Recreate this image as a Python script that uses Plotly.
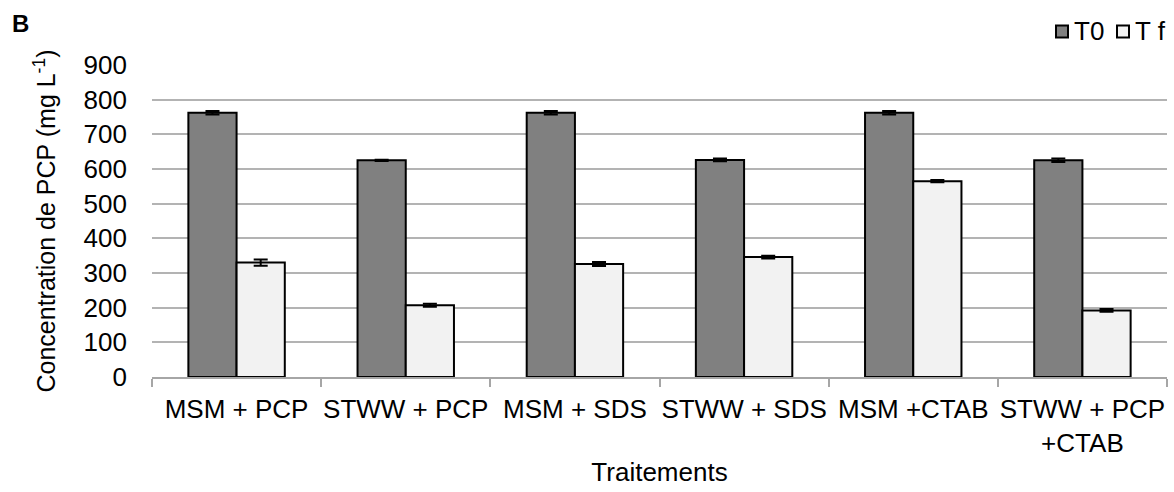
import plotly.graph_objects as go

categories = ["MSM + PCP", "STWW + PCP", "MSM + SDS", "STWW + SDS", "MSM +CTAB", "STWW + PCP<br>+CTAB"]
t0_values = [762, 625, 762, 626, 762, 625]
t0_errors = [5, 2, 5, 4, 5, 5]
tf_values = [330, 207, 326, 346, 565, 192]
tf_errors = [9, 4, 6, 4, 3, 4]
y_ticks = [0, 100, 200, 300, 400, 500, 600, 700, 800, 900]
series_names = ["T0", "T f"]
series_colors = ["#808080", "#f2f2f2"]

FONT = "Liberation Sans, Arial, sans-serif"
FS = 26

fig = go.Figure()
for name, vals, errs, col in zip(series_names, [t0_values, tf_values], [t0_errors, tf_errors], series_colors):
    fig.add_trace(go.Bar(
        name=name, x=categories, y=vals,
        marker=dict(color=col, line=dict(color="#000000", width=2)),
        error_y=dict(type="data", array=errs, color="#000000", thickness=2, width=7),
    ))

# Plot-area geometry (pixels) used for the custom legend placement
L, R, T, B, W, H = 152, 7, 65, 115, 1174, 492
PW, PH = W - L - R, H - T - B
def px(x):
    return (x - L) / PW
def py(y):
    return (H - B - y) / PH

shapes = []
annotations = []
legend_items = [(1056, 1072), (1117, 1133)]
for (sx, tx), name, col in zip(legend_items, series_names, series_colors):
    shapes.append(dict(type="rect", xref="paper", yref="paper",
                       x0=px(sx), x1=px(sx + 12), y0=py(37.5), y1=py(25.5),
                       fillcolor=col, line=dict(color="#000000", width=2)))
    annotations.append(dict(text=name, xref="paper", yref="paper", x=px(tx), y=py(31.5),
                            xanchor="left", yanchor="middle", showarrow=False,
                            font=dict(size=FS, family=FONT, color="#000000")))
annotations.append(dict(text="<b>B</b>", xref="paper", yref="paper", x=px(20), y=py(23.5),
                        xanchor="center", yanchor="middle", showarrow=False,
                        font=dict(size=24, family=FONT, color="#000000")))

fig.update_layout(
    width=W, height=H,
    margin=dict(l=L, r=R, t=T, b=B, autoexpand=False),
    paper_bgcolor="white", plot_bgcolor="white",
    font=dict(family=FONT, size=FS, color="#000000"),
    barmode="group", bargap=0.43, bargroupgap=0,
    showlegend=False,
    xaxis=dict(
        type="category",
        showline=True, linecolor="#a6a6a6", linewidth=1.5,
        ticks="outside", tickson="boundaries", ticklen=8, tickcolor="#a6a6a6", tickwidth=1.5,
        showgrid=False, tickangle=0,
        ticklabelstandoff=8,
        tickfont=dict(size=FS),
        title=dict(text="Traitements", standoff=6, font=dict(size=FS)),
        automargin=False,
    ),
    yaxis=dict(
        range=[0, 900], tickvals=y_ticks,
        showgrid=True, gridcolor="#b3b3b3", gridwidth=1.5,
        showline=False, zeroline=False, ticks="",
        ticklabelstandoff=24,
        tickfont=dict(size=FS),
        title=dict(text="Concentration de PCP (mg L<sup>-1</sup>)", standoff=20, font=dict(size=25)),
        automargin=False,
    ),
    shapes=shapes,
    annotations=annotations,
)

fig.write_html("out.html", config={"displayModeBar": False},
               post_script="document.body.style.margin='0';document.body.style.padding='0';")
